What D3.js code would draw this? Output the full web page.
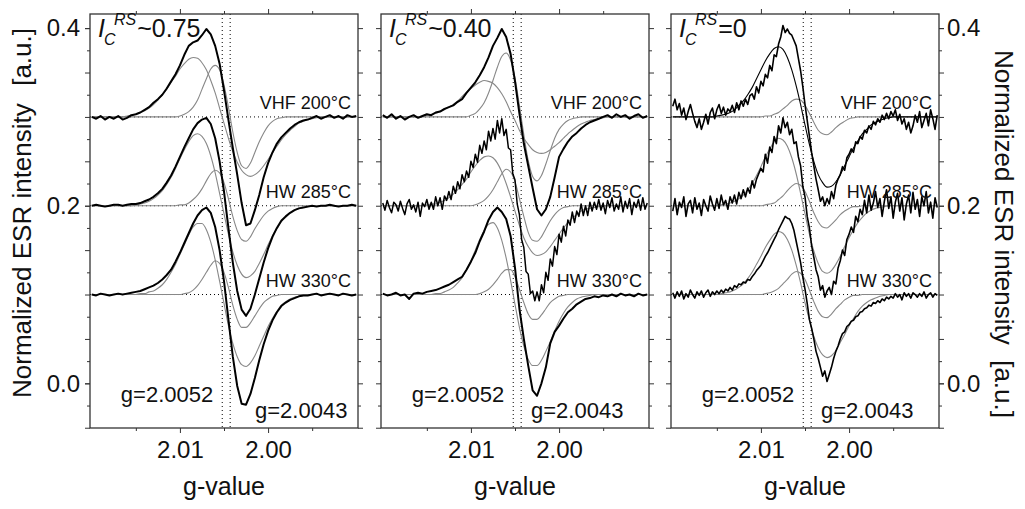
<!DOCTYPE html>
<html>
<head>
<meta charset="utf-8">
<script src="https://cdn.jsdelivr.net/npm/d3@7"></script>
<style>
body { margin: 0; background: #fff; }
svg { display: block; font-family: "Liberation Sans", Arial, sans-serif; }
</style>
</head>
<body>
<div id="chart"></div>
<script>

// every series is sampled evenly from gStart to gEnd
var gStart = 2.020, gEnd = 1.990;
var offsets = [0.3, 0.2, 0.1];
var sampleNames = ["VHF 200°C", "HW 285°C", "HW 330°C"];
var crystalLabels = ["~0.75", "~0.40", "=0"];
var gMarks = [2.0052, 2.0043];
var xMajor = [2.01, 2.00];
var xMinor = [2.015, 2.005, 1.995];
var yMajor = [-0.05, 0, 0.05, 0.1, 0.15, 0.2, 0.25, 0.3, 0.35, 0.4];
var yMinor = [-0.025, 0.025, 0.075, 0.125, 0.175, 0.225, 0.275, 0.325, 0.375];
var yLabelled = [0, 0.2, 0.4];

// intensities in units of 0.001 a.u., relative to the spectrum offset
// panel 1, I_C ~ 0.75
var p1VhfData = [0,-2,1,-3,0,-2,1,-3, -1,2,3,5,8,11,16,20, 25,32,40,48,58,70,80,84,
	86,92,99,93,80,60,30,-3, -35,-65,-97,-122,-120,-105,-88,-68, -52,-40,-30,-23,-18,-13,-9,-6,
	-4,-3,-1,1,-2,0,2,-1, 1,-2,2,0,1];
var p1VhfBroad = [0,0,0,0,0,0,0,0, 1,2,3,5,7,10,14,19, 25,31,39,46,54,60,65,67,
	66,61,53,41,27,10,-7,-24, -39,-51,-60,-65,-67,-65,-61,-55, -48,-40,-33,-26,-20,-15,-11,-7,
	-5,-3,-2,-1,0,0,0,0, 0,0,0,0,0];
var p1VhfNarrow = [0,0,0,0,0,0,0,0,0,0, 0,0,0,0,0,0,0,0,0,0, 1,3,6,11,19,31,43,54,
	58,53,36,11,-17,-40,-55,-58, -52,-40,-28,-18,-10,-5,-2,-1, 0,0,0,0,0,0,0,0,0, 0,0,0,0,0,0,0,0];
var p1Hw285Data = [0,1,0,-1,0,1,1,0,1,2, 2,3,5,7,10,14,19,26, 34,44,55,66,76,86,93,97,
	99,92,76,50,16,-25,-64,-96, -117,-124,-116,-100,-82,-64,-48,-35, -25,-17,-12,-8,-5,-3,-2,-1,
	0,-1,0,0,1,0,-1,0,0,1,0];
var p1Hw285Broad = [0,0,0,0,0,0,0,0,0,0, 1,2,3,5,8,12,17,24, 32,42,53,63,72,79,81,78,
	70,56,37,14,-9,-32,-52,-67, -77,-81,-79,-74,-65,-55,-44,-34, -26,-18,-13,-8,-5,-3,-2,-1,
	0,0,0,0,0,0,0,0,0,0,0];
var p1Hw285Narrow = [0,0,0,0,0,0,0,0,0,0, 0,0,0,0,0,0,0,0,0,0, 1,1,3,7,12,19,28,36,
	40,37,26,8,-12,-28,-38,-40, -35,-26,-18,-11,-6,-3,-1, 0,0,0,0,0,0,0,0,0, 0,0,0,0,0,0,0,0,0];
var p1Hw330Data = [0,-1,1,0,-1,0,1,0,1,2, 3,4,6,8,10,13,17,22, 28,37,47,58,69,80,89,95,
	98,92,76,50,15,-28,-70,-103, -123,-124,-112,-94,-74,-56,-41,-29, -20,-13,-9,-6,-4,-2,-1,-1,
	0,1,-1,0,1,0,-1,1,0,-1,0];
var p1Hw330Broad = [0,0,0,0,0,0,0,0,0,0,0, 1,1,3,4,7,11,17,25, 34,45,56,67,76,80,80,73,
	59,39,15,-10,-35,-55,-70,-79, -81,-77,-69,-58,-47,-36,-27,-19, -12,-8,-5,-3,-2,-1,
	0,0,0,0,0,0,0,0,0,0,0,0];
var p1Hw330Narrow = [0,0,0,0,0,0,0,0,0,0, 0,0,0,0,0,0,0,0,0,0,0, 1,2,5,10,17,25,33,38,
	35,25,8,-12,-28,-37,-37,-32, -24,-16,-9,-5,-2,-1, 0,0,0,0,0,0,0,0,0, 0,0,0,0,0,0,0,0,0];

// panel 2, I_C ~ 0.40
var p2VhfData = [2,-1,3,-2,1,-3,0,2,-1, 1,3,2,5,6,9,11,13, 17,20,27,33,39,47,56,67,
	80,89,99,90,71,40,4,-30, -55,-80,-104,-111,-104,-90,-68,-45, -36,-28,-22,-18,-13,-9,-6,-4,
	-2,0,2,-1,3,0,2,-2,1,3,-1,1];
var p2VhfBroad = [0,0,0,0,0,0,0,0,0, 1,2,3,4,6,8,11,14, 18,23,28,32,36,39,41,40,
	38,33,26,17,6,-4,-15,-24, -31,-37,-40,-41,-40,-37,-33,-29, -24,-19,-15,-11,-8,-6,-4,-3,
	-2,-1, 0,0,0,0,0,0,0,0,0,0];
var p2VhfNarrow = [0,0,0,0,0,0,0,0,0,0, 0,0,0,0,0,0,0,0,0,0, 2,4,9,16,27,41,56,68,
	72,64,44,13,-20,-49,-67,-72, -66,-53,-38,-24,-14,-8,-4,-2,-1, 0,0,0,0,0,0,0,0, 0,0,0,0,0,0,0,0];
var p2Hw285Data = [3,-5,6,-2,-8,4,1,-6,5,-3, -10,2,7,-4,1,-7,4,-12,3,-1,
	7,-4,4,-4,10,0,9,-4,11,6, 16,7,22,14,27,19,35,27,39,32,
	50,43,58,49,68,59,73,63,84,73, 87,75,96,82,98,79,86,65,63,36,
	29,2,-10,-38,-47,-74,-77,-99,-96,-107, -97,-107,-89,-98,-75,-84,-60,-68,-46,-55,
	-32,-41,-23,-34,-16,-22,-7,-19,-6,-12, 2,-11,0,-11,4,-6,4,-4,7,-5,
	3,-9,6,-2,9,-6,2,-4,10,-7, 5,-3,8,-10,4,-2,7,-5,9,-4, 3];
var p2Hw285Broad = [0,0,0,0,0,0,0,0,0,0, 1,2,2,4,6,9,13,18, 24,30,38,45,51,55,56,54,
	48,38,25,10,-6,-22,-36,-46, -53,-56,-55,-52,-46,-39,-32,-25, -19,-14,-10,-6,-4,-3,-2,-1,
	0,0,0,0,0,0,0,0,0,0,0];
var p2Hw285Narrow = [0,0,0,0,0,0,0,0,0,0, 0,0,0,0,0,0,0,0,0,0,0, 1,3,6,11,18,27,36,41,
	38,27,8,-12,-30,-39,-40,-35, -26,-17,-10,-5,-2,-1, 0,0,0,0,0,0,0,0,0, 0,0,0,0,0,0,0,0,0];
var p2Hw330Data = [1,-1,0,2,-1,0,-5,1,2,1, 3,4,5,7,9,11,14,17, 20,28,37,47,60,71,84,93,
	98,93,85,66,30,-16,-50,-80, -108,-114,-100,-82,-55,-42,-35,-27, -20,-16,-11,-8,-5,-4,-2,-3,
	-1,-2,0,-2,1,-1,0,-2,1,-1,0];
var p2Hw330Broad = [0,0,0,0,0,0,0,0,0,0,0,0, 1,1,3,5,8,13,19,28, 38,50,62,72,79,81,75,61,
	41,16,-11,-37,-58,-73,-80,-80, -74,-64,-53,-41,-30,-21,-14,-9, -5,-3,-2,-1,
	0,0,0,0,0,0,0,0,0,0,0,0,0];
var p2Hw330Narrow = [0,0,0,0,0,0,0,0,0,0,0, 0,0,0,0,0,0,0,0,0,0,0, 1,3,6,11,17,24,28,28,
	20,6,-9,-22,-28,-28,-23,-16, -9,-5,-2,-1, 0,0,0,0,0,0,0,0,0,0, 0,0,0,0,0,0,0,0,0];

// panel 3, I_C = 0
var p3VhfData = [12,20,8,15,2,10,-3,6,14,4, -5,-12,-2,-14,-6,3,-8,5,10,-2,
	8,14,4,11,2,9,6,13,5,16, 8,18,12,20,14,24,26,20,34,27,
	40,35,48,44,58,52,70,68,82,90, 103,95,99,94,92,86,80,66,52,34,
	14,-4,-22,-40,-55,-70,-82,-95,-90,-100, -92,-98,-84,-92,-77,-70,-65,-56,-60,-46,
	-42,-36,-40,-28,-30,-22,-25,-15,-18,-10, -14,-5,-9,-2,-6,2,-3,4,-2,6,
	1,8,-4,3,-8,-2,-14,-6,-18,-10, 2,-6,6,-12,-4,4,-10,8,-2,-14, 2];
var p3VhfBroad = [0,0,0,0,0,0,0,0,0,0, 1,2,3,5,8,13,18,25, 33,43,53,63,71,77,79,76,
	67,53,35,14,-9,-31,-50,-65, -74,-79,-78,-73,-65,-55,-45,-35, -27,-19,-14,-9,-6,-4,-2,-1,
	0,0,0,0,0,0,0,0,0,0,0];
var p3VhfNarrow = [0,0,0,0,0,0,0,0,0,0, 0,0,0,0,0,0,0,0,0,0,0, 1,1,3,5,9,13,18,20,
	19,13,4,-6,-15,-19,-20,-17, -12,-8,-5,-2,-1, 0,0,0,0,0,0,0,0,0,0, 0,0,0,0,0,0,0,0,0];
var p3Hw285Data = [-6,8,-10,4,-2,10,-12,2,6,-8, 9,-4,3,-11,7,0,-6,11,2,-5,
	8,-3,12,1,6,-4,10,3,12,2, 15,8,18,10,20,14,28,20,30,36,
	42,38,58,48,66,60,78,70,90,82, 99,88,94,80,86,70,72,55,45,22,
	10,-12,-25,-45,-58,-72,-80,-95,-90,-103, -96,-92,-100,-85,-88,-70,-62,-50,-56,-38,
	-32,-24,-30,-12,-18,-4,-10,6,-8,12, -5,3,16,-2,8,-12,5,18,-3,10,
	-14,4,14,-6,9,-16,2,12,-8,15, -4,7,-12,10,0,16,-8,4,-14,9, -2];
var p3Hw285Broad = [0,0,0,0,0,0,0,0,0,0,0, 1,2,3,5,8,12,18,25, 34,44,55,64,72,76,74,67,
	54,36,14,-9,-32,-51,-65,-74, -76,-73,-66,-57,-46,-36,-27,-19, -13,-8,-5,-3,-2,-1,
	0,0,0,0,0,0,0,0,0,0,0,0];
var p3Hw285Narrow = [0,0,0,0,0,0,0,0,0,0, 0,0,0,0,0,0,0,0,0,0,0, 1,2,3,7,11,17,22,25,
	23,16,5,-8,-18,-24,-25,-21, -16,-10,-6,-3,-1,-1, 0,0,0,0,0,0,0,0,0, 0,0,0,0,0,0,0,0,0];
var p3Hw330Data = [2,-4,3,-2,4,-5,1,-3,5,0, -4,3,-1,4,-3,2,5,-2,3,0,
	4,1,5,2,6,4,8,5,10,8, 12,11,14,13,17,16,20,23,27,30,
	33,38,43,47,52,57,62,67,73,78, 83,88,86,85,80,72,60,48,36,20,
	6,-10,-28,-38,-50,-64,-72,-82,-92,-86, -98,-90,-82,-72,-64,-58,-50,-44,-42,-36,
	-34,-30,-29,-25,-24,-20,-19,-16,-15,-12, -13,-9,-10,-7,-9,-5,-7,-3,-5,-2,
	-4,1,-3,0,-6,2,-2,1,-4,2, 0,-3,1,-2,3,-4,0,2,-3,1, -1];
var p3Hw330Broad = [0,0,0,0,0,0,0,0,0,0,0, 1,2,3,5,8,12,18,25, 34,43,53,61,68,71,69,62,
	50,33,13,-9,-29,-47,-60,-68, -71,-69,-63,-54,-45,-35,-27,-19, -13,-9,-6,-4,-2,-1,
	0,0,0,0,0,0,0,0,0,0,0,0];
var p3Hw330Narrow = [0,0,0,0,0,0,0,0,0,0, 0,0,0,0,0,0,0,0,0,0,0, 1,2,4,7,12,17,23,26,
	24,17,5,-8,-19,-25,-26,-22, -16,-11,-6,-3,-1,-1, 0,0,0,0,0,0,0,0,0, 0,0,0,0,0,0,0,0,0];

var panels = [
	{ data: [p1VhfData, p1Hw285Data, p1Hw330Data],
	  broad: [p1VhfBroad, p1Hw285Broad, p1Hw330Broad],
	  narrow: [p1VhfNarrow, p1Hw285Narrow, p1Hw330Narrow],
	  dataWidth: [2, 2, 2], broadColour: ["#888", "#888", "#888"], g2X: 165 },
	{ data: [p2VhfData, p2Hw285Data, p2Hw330Data],
	  broad: [p2VhfBroad, p2Hw285Broad, p2Hw330Broad],
	  narrow: [p2VhfNarrow, p2Hw285Narrow, p2Hw330Narrow],
	  dataWidth: [2, 1.5, 2], broadColour: ["#888", "#888", "#888"], g2X: 150 },
	{ data: [p3VhfData, p3Hw285Data, p3Hw330Data],
	  broad: [p3VhfBroad, p3Hw285Broad, p3Hw330Broad],
	  narrow: [p3VhfNarrow, p3Hw285Narrow, p3Hw330Narrow],
	  dataWidth: [1.6, 1.6, 1.6], broadColour: ["#000", "#888", "#888"], g2X: 150 }
];

var W = 1025, H = 509;
var lefts = [90, 381, 671];
var panelTop = 14, pw = 268, ph = 414;

var svg = d3.select("#chart").append("svg")
	.attr("width", W)
	.attr("height", H);

var x = d3.scaleLinear().domain([2.0202, 1.9898]).range([0, pw]);
var y = d3.scaleLinear().domain([-0.0503, 0.4159]).range([ph, 0]);

function toPoints(vals, offset) {
	var n = vals.length;
	return vals.map(function(v, i) {
		return [gStart + (gEnd - gStart) * i / (n - 1), offset + v / 1000];
	});
}

var rough = d3.line().x(function(d) { return x(d[0]); }).y(function(d) { return y(d[1]); });
var smooth = d3.line().x(function(d) { return x(d[0]); }).y(function(d) { return y(d[1]); })
	.curve(d3.curveMonotoneX);

function tickSet(g, axis, values, size, transform) {
	var a = g.append("g")
		.attr("transform", transform || null)
		.call(axis.tickValues(values).tickSize(size).tickFormat(""));
	a.select(".domain").remove();
	a.selectAll("line").attr("stroke", "#333");
	return a;
}

function labelSet(g, axis, values, fmt, pad, transform) {
	var a = g.append("g")
		.attr("transform", transform || null)
		.call(axis.tickValues(values).tickSize(5).tickPadding(pad).tickFormat(fmt));
	a.select(".domain").remove();
	a.selectAll("line").attr("stroke", "#333");
	a.attr("font-family", null).attr("font-size", 24);
	a.selectAll("text").attr("fill", "#111");
	return a;
}

panels.forEach(function(p, pi) {
	var g = svg.append("g").attr("transform", "translate(" + lefts[pi] + "," + panelTop + ")");

	svg.append("clipPath").attr("id", "clip" + pi)
		.append("rect").attr("width", pw).attr("height", ph);

	// ticks on all four sides, pointing out
	tickSet(g, d3.axisLeft(y), yMajor, 5);
	tickSet(g, d3.axisLeft(y), yMinor, 3);
	tickSet(g, d3.axisRight(y), yMajor, 5, "translate(" + pw + ",0)");
	tickSet(g, d3.axisRight(y), yMinor, 3, "translate(" + pw + ",0)");
	tickSet(g, d3.axisTop(x), xMajor, 5);
	tickSet(g, d3.axisTop(x), xMinor, 3);
	tickSet(g, d3.axisBottom(x), xMinor, 3, "translate(0," + ph + ")");
	labelSet(g, d3.axisBottom(x), xMajor, d3.format(".2f"), 8, "translate(0," + ph + ")");
	if (pi == 0)
		labelSet(g, d3.axisLeft(y), yLabelled, d3.format(".1f"), 5);
	if (pi == 2)
		labelSet(g, d3.axisRight(y), yLabelled, d3.format(".1f"), 3, "translate(" + pw + ",0)");

	var plot = g.append("g").attr("clip-path", "url(#clip" + pi + ")");

	// dotted guides: offsets and the two g-values
	plot.selectAll("line.base").data(offsets).enter().append("line")
		.attr("x1", 0).attr("x2", pw)
		.attr("y1", function(d) { return y(d); })
		.attr("y2", function(d) { return y(d); })
		.attr("stroke", "#000").attr("stroke-width", 1)
		.attr("stroke-dasharray", "1,3");
	plot.selectAll("line.gmark").data(gMarks).enter().append("line")
		.attr("y1", 0).attr("y2", ph)
		.attr("x1", function(d) { return x(d); })
		.attr("x2", function(d) { return x(d); })
		.attr("stroke", "#000").attr("stroke-width", 1)
		.attr("stroke-dasharray", "1,3");

	// sample names sit under the traces
	sampleNames.forEach(function(name, si) {
		g.append("text")
			.attr("x", pw - 7)
			.attr("y", y(offsets[si]) - 8)
			.attr("text-anchor", "end")
			.attr("font-size", 18)
			.attr("fill", "#111")
			.text(name);
	});

	for (var s = 0; s < 3; s++) {
		plot.append("path")
			.attr("d", smooth(toPoints(p.narrow[s], offsets[s])))
			.attr("fill", "none").attr("stroke", "#888").attr("stroke-width", 1.1);
		plot.append("path")
			.attr("d", smooth(toPoints(p.broad[s], offsets[s])))
			.attr("fill", "none").attr("stroke", p.broadColour[s]).attr("stroke-width", 1.1);
	}
	for (var s = 0; s < 3; s++) {
		plot.append("path")
			.attr("d", rough(toPoints(p.data[s], offsets[s])))
			.attr("fill", "none").attr("stroke", "#000")
			.attr("stroke-width", p.dataWidth[s])
			.attr("stroke-linejoin", "round");
	}

	g.append("rect")
		.attr("width", pw).attr("height", ph)
		.attr("fill", "none").attr("stroke", "#333").attr("stroke-width", 1.3);

	// I_C^RS label
	var t = g.append("text").attr("x", 8).attr("y", 23).attr("font-size", 25).attr("fill", "#111");
	t.append("tspan").attr("font-style", "italic").text("I");
	t.append("tspan").attr("font-style", "italic").attr("font-size", 16).attr("dx", -1).attr("dy", 8).text("C");
	t.append("tspan").attr("font-style", "italic").attr("font-size", 16).attr("x", 24).attr("dy", -20).text("RS");
	t.append("tspan").attr("dy", 12).attr("dx", 1).text(crystalLabels[pi]);

	g.append("text")
		.attr("x", x(gMarks[0]) - 9).attr("y", 388)
		.attr("text-anchor", "end").attr("font-size", 22).attr("fill", "#111")
		.text("g=" + gMarks[0].toFixed(4));
	g.append("text")
		.attr("x", p.g2X).attr("y", 404)
		.attr("font-size", 22).attr("fill", "#111")
		.text("g=" + gMarks[1].toFixed(4));

	g.append("text")
		.attr("x", pw / 2).attr("y", 481)
		.attr("text-anchor", "middle").attr("font-size", 25).attr("fill", "#111")
		.text("g-value");
});

// axis titles, left reads upward, right reads downward
svg.append("text")
	.attr("transform", "translate(31,398) rotate(-90)")
	.attr("font-size", 26).attr("fill", "#111")
	.text("Normalized ESR intensity");
svg.append("text")
	.attr("transform", "translate(31,28) rotate(-90)")
	.attr("text-anchor", "end").attr("font-size", 26).attr("fill", "#111")
	.text("[a.u.]");
svg.append("text")
	.attr("transform", "translate(995,50) rotate(90)")
	.attr("font-size", 26).attr("fill", "#111")
	.text("Normalized ESR intensity");
svg.append("text")
	.attr("transform", "translate(995,418) rotate(90)")
	.attr("text-anchor", "end").attr("font-size", 26).attr("fill", "#111")
	.text("[a.u.]");

</script>
</body>
</html>
